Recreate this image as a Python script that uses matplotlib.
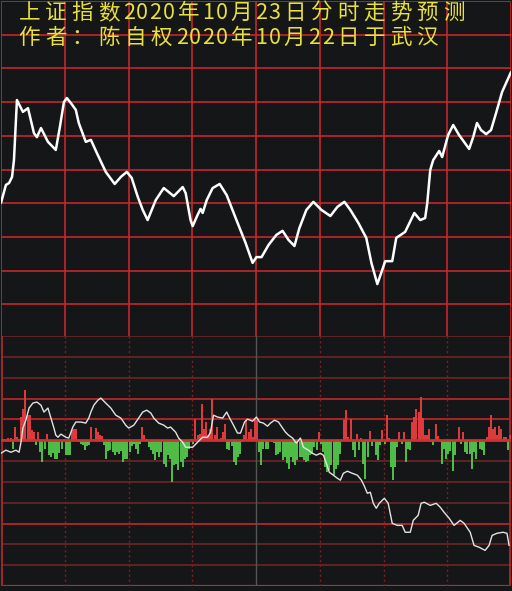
import matplotlib
matplotlib.use('Agg')
import matplotlib.pyplot as plt

plt.rcParams['font.family'] = ['Noto Sans CJK SC', 'DejaVu Sans']

# ── colours ──────────────────────────────────────────────────────────────────
BG      = '#151618'
GRID    = '#c4282c'
GRID_D  = '#6a2626'
YELLOW  = '#e8e03c'
RED     = '#dc3a3c'
GREEN   = '#50bc48'

# ── data ─────────────────────────────────────────────────────────────────────
title1 = '上证指数2020年10月23日分时走势预测'
title2 = '作者：陈自权2020年10月22日于武汉'

# forecast curve (minutes 0-240, value in grid units)
price_t = [0, 2.3, 3.8, 5.2, 6.1, 7.5, 10.3, 12.7, 15.5, 16.9, 18.8, 22.1, 25.8,
           27.7, 29.6, 31.0, 32.9, 35.2, 36.6, 39.9, 42.3, 45.1, 49.3, 53.5,
           56.4, 59.2, 61.5, 64.4, 66.7, 69.0, 72.8, 76.6, 81.3, 85.5, 86.9,
           89.2, 90.2, 92.5, 93.9, 94.9, 96.8, 99.6, 102.9, 106.2, 110.8,
           115.1, 118.4, 120.2, 122.6, 125.9, 129.6, 132.5, 135.3, 138.1,
           140.4, 143.7, 147.0, 150.8, 155.0, 158.3, 161.6, 164.4, 168.2,
           171.9, 174.3, 177.1, 179.4, 180.8, 184.1, 186.0, 190.2, 194.5,
           197.3, 199.6, 200.6, 202.0, 203.4, 206.2, 207.6, 210.4, 212.8,
           215.6, 220.3, 222.2, 224.0, 225.9, 228.3, 230.6, 233.0, 235.8, 240.0]
price_v = [4.01, 4.54, 4.60, 4.78, 5.28, 7.06, 6.71, 6.82, 6.08, 5.96, 6.23, 5.82,
           5.58, 6.26, 7.00, 7.12, 6.97, 6.77, 6.38, 5.82, 5.88, 5.49, 4.93,
           4.57, 4.78, 4.93, 4.75, 4.18, 3.80, 3.50, 4.09, 4.45, 4.21, 4.48,
           4.30, 3.50, 3.32, 3.65, 3.83, 3.71, 4.09, 4.45, 4.57, 4.24, 3.50,
           2.82, 2.23, 2.40, 2.40, 2.76, 3.06, 3.18, 2.91, 2.73, 3.26, 3.80,
           4.04, 3.80, 3.62, 3.89, 4.04, 3.80, 3.41, 2.97, 2.23, 1.60, 2.02,
           2.28, 2.28, 2.97, 3.15, 3.71, 3.50, 3.56, 4.01, 4.99, 5.28, 5.55,
           5.37, 6.02, 6.32, 6.02, 5.61, 5.96, 6.38, 6.17, 6.05, 6.17, 6.68,
           7.30, 7.89]

# cumulative flow line in lower panel
flow_t = [0, 2.3, 4.7, 7.0, 8.5, 9.4, 10.3, 11.7, 13.2, 15.0, 16.9, 18.8, 20.2,
          22.1, 23.5, 24.9, 25.8, 26.8, 28.2, 30.5, 31.9, 33.8, 35.2, 37.6,
          39.9, 41.3, 42.3, 43.7, 45.6, 47.0, 49.3, 51.7, 54.0, 56.4, 58.7,
          60.1, 62.5, 64.8, 66.7, 68.6, 70.5, 71.9, 74.2, 76.6, 78.4, 79.8,
          82.2, 83.6, 85.5, 86.9, 90.2, 92.5, 94.9, 97.2, 98.6, 100.0, 101.9,
          104.3, 106.2, 107.6, 109.4, 111.3, 112.7, 114.6, 116.0, 118.4,
          120.2, 121.7, 123.5, 125.4, 126.8, 128.7, 130.6, 132.5, 133.9,
          135.3, 137.2, 139.0, 140.9, 142.3, 144.7, 146.5, 148.4, 150.3,
          151.7, 153.1, 154.5, 156.4, 158.3, 159.7, 161.1, 163.0, 165.3,
          167.7, 169.6, 171.0, 172.4, 173.8, 175.2, 176.6, 178.0, 180.4,
          182.2, 184.1, 186.5, 188.8, 190.2, 192.6, 194.0, 196.3, 197.7,
          199.2, 202.0, 204.8, 206.7, 208.5, 210.9, 213.2, 216.1, 217.9,
          220.8, 222.6, 225.0, 227.8, 229.7, 231.1, 233.4, 236.3, 238.1, 239.1]
flow_v = [-0.63, -0.48, -0.58, -0.48, -0.58, -0.10, 0.58, 0.96, 1.54, 1.78, 1.83,
          1.68, 1.35, 1.54, 1.06, 0.58, 0.24, 0.14, 0.29, 0.14, 0.10, 0.63,
          0.87, 0.87, 0.82, 1.06, 1.35, 1.68, 1.92, 2.02, 1.78, 1.54, 1.20,
          1.06, 0.72, 0.58, 0.72, 1.06, 1.35, 1.44, 1.30, 1.06, 0.82, 0.72,
          0.58, 0.63, 0.38, 0.10, -0.10, -0.34, -0.34, -0.10, 0.14, 0.14,
          0.38, 1.20, 1.11, 1.06, 1.35, 1.06, 0.72, 0.34, 0.34, 0.87, 1.01,
          0.91, 1.11, 0.87, 0.82, 0.67, 0.82, 0.96, 0.87, 0.58, 0.38, 0.24,
          0.10, -0.14, 0.10, -0.34, -0.48, -0.63, -0.72, -0.63, -0.72, -1.11,
          -1.54, -1.68, -1.83, -1.92, -1.59, -1.49, -1.59, -1.68, -1.92,
          -2.21, -2.55, -2.50, -3.03, -3.27, -3.03, -2.79, -3.03, -3.99,
          -4.09, -4.09, -4.42, -4.42, -3.85, -3.61, -3.03, -2.98, -3.13,
          -3.03, -3.22, -3.46, -3.75, -4.09, -3.85, -3.99, -4.42, -5.05,
          -5.14, -5.29, -5.05, -4.57, -4.47, -4.42, -4.47, -5.05]

# per-minute bars (red > 0, green < 0)
bars = [
    0, 0.08, 0, 0.10, 0.12, -0.40, 0.64, 0.15, 0.05, 1.12,
    1.50, 2.40, 1.20, 1.20, 0.48, 0.40, -0.24, 0.40, -0.56, -1.07,
    -0.40, 0.32, -0.72, -0.80, -0.60, -0.88, -0.90, -0.60, -0.40, 0.08,
    -0.72, -0.72, -0.72, 0.48, 0.56, 0.56, -0.08, -0.20, -0.25, -0.48,
    -0.30, -0.25, 0.64, 0.05, 0.60, 0.40, 0.27, 0.20, -0.25, -0.88,
    -0.50, -0.45, -0.55, -0.70, -0.55, -0.64, -0.50, -1.04, -0.90, -0.88,
    -0.56, -0.30, -0.20, -0.40, -0.64, -0.20, 0.64, 0.24, 0.08, -0.32,
    -0.48, -0.64, -0.96, -0.56, -0.80, -0.56, -1.12, -1.28, -0.72, -0.88,
    -2.00, -1.20, -1.12, -1.44, -1.04, -1.28, -0.88, -0.80, -0.40, 0.05,
    -0.16, 1.00, 0.24, 0.32, 1.76, 0.56, 0.88, 0.24, 0.56, 2.00,
    0.24, 0.64, 0.08, 0.10, 0.40, 0.80, -0.40, -0.48, -0.30, -1.04,
    -1.20, -0.80, -0.64, -0.10, 0.24, 0.96, 0.40, 0.56, 0.16, 1.04,
    0.96, -0.56, -1.20, -0.40, -0.40, -0.40, 0, -0.10, -0.15, -0.72,
    -0.64, -0.56, -0.96, -0.80, -1.10, -1.36, -0.80, -1.04, -1.20, -0.96,
    -0.80, -0.80, -0.96, -1.04, -1.00, -0.72, -0.64, -0.32, -0.48, 0.37,
    -0.16, -0.56, -1.28, -1.52, -1.44, -1.20, -1.68, -1.36, -1.20, -0.64,
    -0.05, 0.96, 1.44, 0.16, 1.04, -0.48, -0.80, 0.32, -0.48, 0.10,
    -1.12, -1.84, -0.80, 0.43, -0.30, 0.05, -0.72, -0.96, -0.24, 0.48,
    -0.20, 1.23, 0.10, -1.28, -1.92, -1.28, -0.32, 0.37, -0.20, 0.37,
    -1.07, -0.40, -0.48, 0.88, 1.12, 1.49, 1.33, 2.05, 1.07, 0.24,
    0.27, 0.56, -0.08, -0.24, 0.80, 0.20, -0.10, -1.12, -0.40, -0.88,
    -0.64, -0.50, -1.49, -0.72, 0.08, 0.64, -0.20, 0.37, -0.56, -0.64,
    -0.64, -1.36, -0.56, -0.88, -0.10, -0.40, -0.48, -0.72, 0.16, 0.64,
    1.23, 0.56, 0.64, 0.27, 0.69, 0.56, 0.16, 0.16, -0.48, 0.24,
]

half_hours = [30, 60, 90, 120, 150, 180, 210]

# ── figure ───────────────────────────────────────────────────────────────────
W, H = 512, 591
fig = plt.figure(figsize=(W / 100, H / 100), dpi=100)
fig.patch.set_facecolor(BG)

ax1 = fig.add_axes([1 / W, (H - 338) / H, 510 / W, 337 / H])
ax2 = fig.add_axes([1 / W, (H - 586) / H, 510 / W, 250 / H])

for ax in (ax1, ax2):
    ax.set_facecolor(BG)
    ax.set_xlim(0, 240)
    ax.set_xticks([])
    ax.set_yticks([])
    for s in ax.spines.values():
        s.set_visible(False)

# top panel: grid + forecast curve
ax1.set_ylim(0, 10)
for v in range(0, 11):
    ax1.axhline(v, color=GRID, lw=1.2, zorder=1)
for t in [0] + half_hours + [240]:
    ax1.axvline(t, color=GRID, lw=1.2, zorder=1)
ax1.plot(price_t, price_v, color='white', lw=1.8,
         solid_joinstyle='round', solid_capstyle='round', zorder=3)

# bottom panel
ax2.set_ylim(-7, 5)
bright = {-7, -4, 0, 1, 2}
for v in range(-7, 6):
    if v == 0:
        continue
    ax2.axhline(v, color=GRID if v in bright else GRID_D,
                lw=1.6 if v == -7 else 1.2, zorder=1)
for t in half_hours:
    if t == 120:
        ax2.axvline(t, color='#555555', lw=1.0, zorder=1)
    else:
        ax2.axvline(t, color='#7a2222', lw=1.0, ls=(0, (1.5, 2)), zorder=1)
ax2.axvline(0.3, color='#a02828', lw=1.4, zorder=1)
ax2.axvline(239.6, color='#a02828', lw=1.4, zorder=1)

minutes = list(range(len(bars)))
colors = [RED if b > 0 else GREEN for b in bars]
ax2.bar(minutes, bars, width=0.95, color=colors, align='edge', lw=0,
        antialiased=False, zorder=2)
ax2.axhline(0, color='#d03030', lw=2.0, zorder=3)
ax2.plot(flow_t, flow_v, color='#e2e2e2', lw=1.0, zorder=4)

# title lines, drawn char by char on a monospaced pitch
def draw_line(text, x0, yc):
    x = x0
    for ch in text:
        adv = 26.5 if ord(ch) > 127 else 13.3
        fig.text((x + adv / 2) / W, 1 - yc / H, ch, color=YELLOW,
                 fontsize=15.5, ha='center', va='center', zorder=10)
        x += adv

draw_line(title1, 16, 13)
draw_line(title2, 16, 38)

fig.savefig('out.png', dpi=100, facecolor=BG)
